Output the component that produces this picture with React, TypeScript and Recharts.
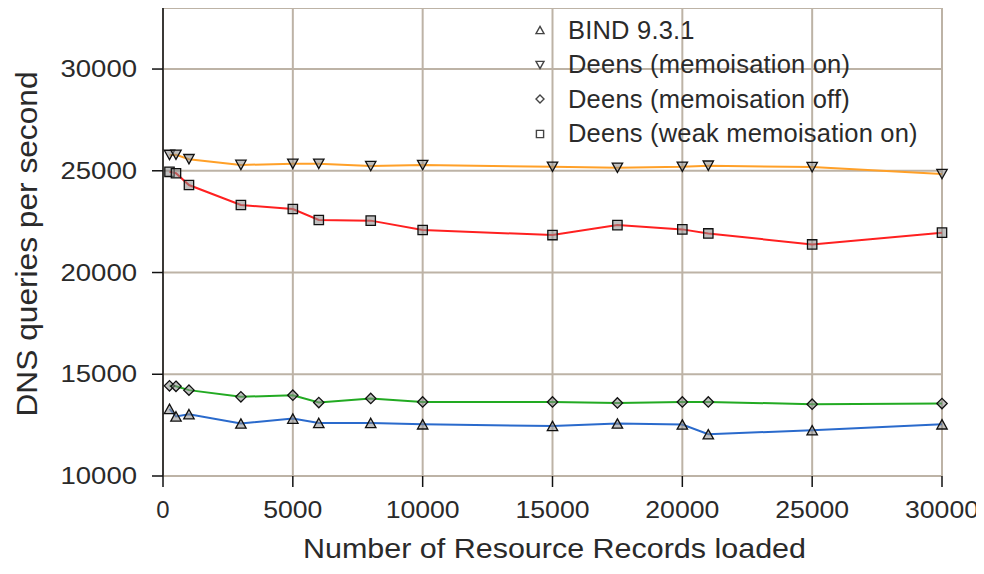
import React from 'react';
import { LineChart, Line, XAxis, YAxis, CartesianGrid, Legend } from 'recharts';

const recordsLoaded = [250, 500, 1000, 3000, 5000, 6000, 8000, 10000, 15000, 17500, 20000, 21000, 25000, 30000];
const bind931 = [13300, 12930, 13040, 12580, 12820, 12610, 12610, 12540, 12460, 12580, 12530, 12050, 12250, 12540];
const memoOn = [25780, 25790, 25570, 25290, 25340, 25340, 25230, 25280, 25200, 25150, 25200, 25250, 25180, 24840];
const memoOff = [14430, 14410, 14220, 13890, 13970, 13610, 13810, 13640, 13640, 13590, 13640, 13640, 13530, 13560];
const weakMemo = [24950, 24880, 24300, 23320, 23120, 22580, 22550, 22090, 21840, 22330, 22120, 21920, 21380, 21960];

const xTicks = [0, 5000, 10000, 15000, 20000, 25000, 30000];
const yTicks = [10000, 15000, 20000, 25000, 30000];

const seriesNames = ['BIND 9.3.1', 'Deens (memoisation on)', 'Deens (memoisation off)', 'Deens (weak memoisation on)'];
const seriesKeys = ['bind', 'memoOn', 'memoOff', 'weakMemo'];
const seriesColors = ['#2a6acc', '#ffa028', '#22aa22', '#ff2020'];
const seriesShapes = ['up', 'down', 'diamond', 'square'];

const xTitle = 'Number of Resource Records loaded';
const yTitle = 'DNS queries per second';

const data = recordsLoaded.map((x, i) => ({
  x,
  bind: bind931[i],
  memoOn: memoOn[i],
  memoOff: memoOff[i],
  weakMemo: weakMemo[i],
}));

const FONT = '"Liberation Sans", Arial, Helvetica, sans-serif';
const TEXT = '#2a2a2a';

function shapePath(shape: string, cx: number, cy: number, r: number) {
  switch (shape) {
    case 'up':
      return `M${cx},${cy - r * 0.9} L${cx + r},${cy + r * 0.9} L${cx - r},${cy + r * 0.9} Z`;
    case 'down':
      return `M${cx},${cy + r * 0.9} L${cx + r},${cy - r * 0.9} L${cx - r},${cy - r * 0.9} Z`;
    case 'diamond':
      return `M${cx},${cy - r} L${cx + r},${cy} L${cx},${cy + r} L${cx - r},${cy} Z`;
    default:
      return `M${cx - r * 0.9},${cy - r * 0.9} L${cx + r * 0.9},${cy - r * 0.9} L${cx + r * 0.9},${cy + r * 0.9} L${cx - r * 0.9},${cy + r * 0.9} Z`;
  }
}

function makeDot(shape: string) {
  return (props: any) => {
    const { cx, cy, index } = props;
    if (cx == null || cy == null) return <g key={`e-${shape}-${index}`} />;
    return (
      <path
        key={`d-${shape}-${index}`}
        d={shapePath(shape, cx, cy, 5.2)}
        fill="#8a8a8a"
        fillOpacity={0.55}
        stroke="#111"
        strokeWidth={1.3}
      />
    );
  };
}

const XTick = (props: any) => {
  const { x, y, payload } = props;
  const label = String(payload.value);
  const len = label.length === 1 ? 13.3 : label.length * 14.8;
  return (
    <text
      x={x - len / 2}
      y={y}
      dy="0.71em"
      textAnchor="start"
      fill={TEXT}
      fontSize={23}
      fontFamily={FONT}
      textLength={len}
      lengthAdjust="spacingAndGlyphs"
    >
      {label}
    </text>
  );
};

const YTick = (props: any) => {
  const { x, y, payload } = props;
  const label = String(payload.value);
  const len = label.length * 15.3;
  return (
    <text
      x={x - len}
      y={y}
      dy="0.355em"
      textAnchor="start"
      fill={TEXT}
      fontSize={23}
      fontFamily={FONT}
      textLength={len}
      lengthAdjust="spacingAndGlyphs"
    >
      {label}
    </text>
  );
};

const XTitle = (props: any) => {
  const vb = props.viewBox || { x: 0, y: 0, width: 0, height: 0 };
  const len = 503;
  return (
    <text
      x={vb.x + vb.width / 2 + 2 - len / 2}
      y={vb.y + 82}
      textAnchor="start"
      fill={TEXT}
      fontSize={28}
      fontFamily={FONT}
      textLength={len}
      lengthAdjust="spacingAndGlyphs"
    >
      {xTitle}
    </text>
  );
};

const YTitle = (props: any) => {
  const vb = props.viewBox || { x: 0, y: 0, width: 0, height: 0 };
  const len = 345;
  const cx = 29;
  const cy = vb.y + vb.height / 2 + 2;
  return (
    <text
      x={cx - len / 2}
      y={cy}
      transform={`rotate(-90, ${cx}, ${cy})`}
      textAnchor="start"
      fill={TEXT}
      fontSize={29}
      fontFamily={FONT}
      textLength={len}
      lengthAdjust="spacingAndGlyphs"
    >
      {yTitle}
    </text>
  );
};

const LegendContent = () => (
  <div style={{ fontFamily: FONT }}>
    {seriesNames.map((name, i) => (
      <div key={name} style={{ display: 'flex', alignItems: 'center', height: 34.5 }}>
        <svg width={14} height={14} style={{ display: 'block' }}>
          <path d={shapePath(seriesShapes[i], 7, 7, 4)} fill="#fff" stroke="#444" strokeWidth={1.4} />
        </svg>
        <span style={{ marginLeft: 21, fontSize: 25.5, color: TEXT, letterSpacing: 0.2, whiteSpace: 'nowrap' }}>{name}</span>
      </div>
    ))}
  </div>
);

export default function App() {
  return (
    <div style={{ width: 976, height: 558 }}>
      <style>{`.recharts-surface{overflow:visible !important;}`}</style>
      <LineChart width={976} height={558} data={data} margin={{ top: 0, right: 42, left: 0, bottom: 0 }}>
        <CartesianGrid stroke="#bdb3a6" strokeWidth={2} />
        <XAxis
          dataKey="x"
          type="number"
          domain={[0, 30000]}
          ticks={xTicks}
          axisLine={false}
          tickLine={{ stroke: '#111', strokeWidth: 1.5 }}
          tickSize={11}
          tickMargin={15}
          height={90}
          tick={<XTick />}
          label={<XTitle />}
          interval={0}
        />
        <YAxis
          type="number"
          domain={[10000, 33000]}
          ticks={yTicks}
          width={155}
          axisLine={{ stroke: '#111', strokeWidth: 1.5 }}
          tickLine={{ stroke: '#111', strokeWidth: 1.5 }}
          tickSize={11}
          tickMargin={15}
          tick={<YTick />}
          label={<YTitle />}
          interval={0}
          allowDataOverflow
        />
        <Legend
          layout="vertical"
          align="center"
          verticalAlign="middle"
          content={<LegendContent />}
          wrapperStyle={{ left: 525, top: 4.75, width: 420, height: 140 }}
        />
        {seriesKeys.map((k, i) => (
          <Line
            key={k}
            type="linear"
            dataKey={k}
            name={seriesNames[i]}
            stroke={seriesColors[i]}
            strokeWidth={2}
            dot={makeDot(seriesShapes[i])}
            activeDot={false}
            isAnimationActive={false}
          />
        ))}
      </LineChart>
    </div>
  );
}
